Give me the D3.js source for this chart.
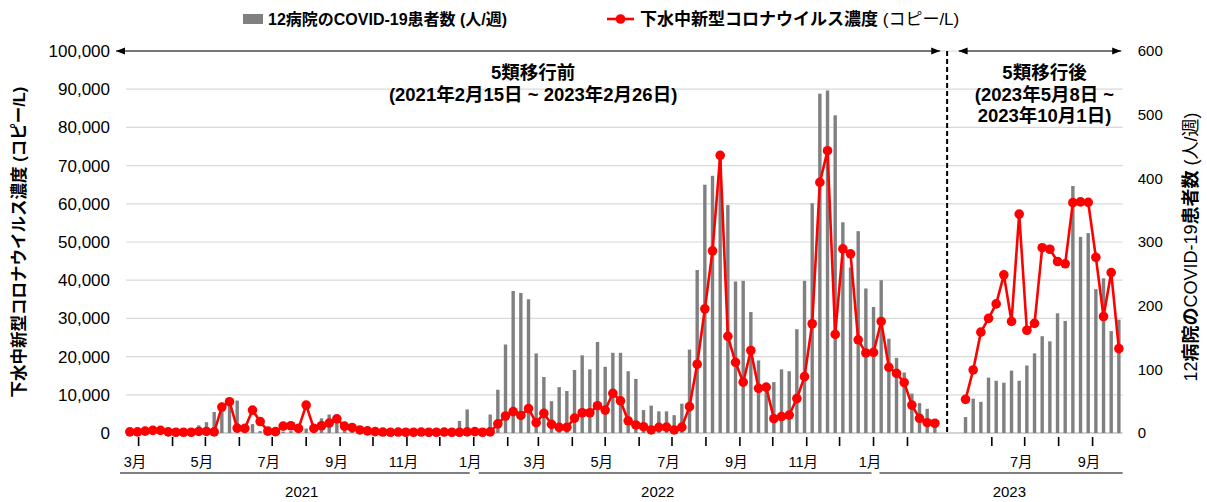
<!DOCTYPE html>
<html>
<head>
<meta charset="utf-8">
<script src="https://cdn.jsdelivr.net/npm/d3@7"></script>
<style>
  body { margin: 0; background: #fff; }
  text { font-family: "Liberation Sans", Arial, "Noto Sans CJK JP", sans-serif; fill: #000; }
</style>
</head>
<body>
<div id="chart"></div>
<script>
// weekly values, 2021-02-15 .. 2023-02-26 (before reclassification)
var preCases = [0,0,0,0,0,0,1,2,4,12,17,33,42,48,51,6,14,3,1,1,2,3,2,7,10,23,29,22,8,3,1,1,0,
  0,0,0,0,0,0,0,0,0,0,19,37,1,2,29,
  68,139,223,220,210,125,88,50,72,66,99,122,100,143,104,126,126,97,85,36,43,34,34,28,46,131,
  256,390,404,430,358,238,239,190,114,70,80,100,97,163,239,361,533,538,499,331,260,317,227,198,
  240,148,118,95,62,47,38,20];
var preConc = [300,300,500,700,700,300,200,200,200,400,400,300,6800,8200,1300,1200,6000,3000,500,350,
  1800,1900,1200,7300,1200,1900,2600,3700,1800,1400,800,550,350,
  250,200,250,200,200,250,200,200,250,200,200,300,350,200,300,
  2400,4450,5600,4600,6400,2700,5150,2270,1500,1500,3900,5300,5300,7150,6000,10400,8400,3200,2100,
  1650,800,1500,1550,800,1550,6900,18000,32500,47700,72700,25300,18500,13300,21600,11700,12000,
  3750,4300,4700,9000,14750,28600,65600,73900,25800,48200,46900,24400,20950,21100,29200,17200,
  15600,13200,7300,3850,2700,2550];
// weekly values, 2023-05-08 .. 2023-10-01 (after reclassification)
var postCases = [25,54,49,87,82,79,98,82,106,125,152,144,188,176,388,308,314,226,243,160,178];
var postConc = [8800,16500,26400,30000,33800,41400,29200,57300,26900,28700,48500,48100,44900,44300,
  60300,60500,60400,46000,30500,42000,22100];

var preStart = new Date(2021, 1, 21), postStart = new Date(2023, 4, 8);
var postOffset = 109, nSlots = 130;
var yearLabels = ["2021", "2022", "2023"];
var yearLabelDates = [new Date(2021, 6, 28), new Date(2022, 5, 18), new Date(2023, 5, 17)];
var legendCases = "12病院のCOVID-19患者数 (人/週)";
var legendConc = "下水中新型コロナウイルス濃度";
var legendConcUnit = " (コピー/L)";

var width = 1207, height = 502;
var svg = d3.select("#chart").append("svg")
    .attr("width", width).attr("height", height);

var x = d3.scaleLinear().domain([-0.5, nSlots - 0.5]).range([126, 1122.7]);
var yL = d3.scaleLinear().domain([0, 100000]).range([433, 51]);
var yR = d3.scaleLinear().domain([0, 600]).range([433, 51]);
var DAY = 864e5;

function slotOf(d) {
  if (d < new Date(2023, 3, 1)) return (d - preStart) / (7 * DAY);
  return postOffset + (d - postStart) / (7 * DAY);
}

var pre = preCases.map(function(v, i) { return {slot: i, cases: v, conc: preConc[i]}; });
var post = postCases.map(function(v, i) { return {slot: postOffset + i, cases: v, conc: postConc[i]}; });
var all = pre.concat(post);

// grid
svg.append("g").selectAll("line")
  .data(d3.range(10000, 100001, 10000))
  .enter().append("line")
  .attr("x1", x.range()[0]).attr("x2", x.range()[1])
  .attr("y1", function(d) { return yL(d); }).attr("y2", function(d) { return yL(d); })
  .attr("stroke", "#d9d9d9").attr("stroke-width", 1.2);

// axes
var left = svg.append("g").attr("transform", "translate(" + x.range()[0] + ",0)")
  .call(d3.axisLeft(yL).tickValues(d3.range(0, 100001, 10000)).tickFormat(d3.format(",")).tickSize(0).tickPadding(16));
var right = svg.append("g").attr("transform", "translate(" + x.range()[1] + ",0)")
  .call(d3.axisRight(yR).tickValues(d3.range(0, 601, 100)).tickSize(0).tickPadding(15));
[left, right].forEach(function(a, k) {
  a.select(".domain").remove();
  a.selectAll("text").style("font-size", k == 0 ? "17px" : "15px").attr("fill", "#000")
    .style("font-family", "'Liberation Sans', Arial, sans-serif");
});

svg.append("line")
  .attr("x1", x.range()[0]).attr("x2", x.range()[1])
  .attr("y1", yL(0)).attr("y2", yL(0))
  .attr("stroke", "#a6a6a6").attr("stroke-width", 1.2);

// bars
svg.append("g").selectAll("rect")
  .data(all).enter().append("rect")
  .attr("x", function(d) { return x(d.slot) - 1.7; })
  .attr("width", 3.4)
  .attr("y", function(d) { return yR(d.cases); })
  .attr("height", function(d) { return yR(0) - yR(d.cases); })
  .attr("fill", "#808080");

// line + markers
var line = d3.line().x(function(d) { return x(d.slot); }).y(function(d) { return yL(d.conc); });
[pre, post].forEach(function(seg) {
  svg.append("path").datum(seg)
    .attr("d", line).attr("fill", "none")
    .attr("stroke", "#ff0000").attr("stroke-width", 2.6).attr("stroke-linejoin", "round");
});
svg.append("g").selectAll("circle")
  .data(all).enter().append("circle")
  .attr("cx", function(d) { return x(d.slot); })
  .attr("cy", function(d) { return yL(d.conc); })
  .attr("r", 4.8).attr("fill", "#ff0000");

// month ticks
var months = d3.timeMonth.range(new Date(2021, 2, 1), new Date(2023, 2, 1))
  .concat(d3.timeMonth.range(new Date(2023, 5, 1), new Date(2023, 9, 1)));
var mt = svg.append("g");
mt.selectAll("line").data(months).enter().append("line")
  .attr("x1", function(d) { return x(slotOf(d)); }).attr("x2", function(d) { return x(slotOf(d)); })
  .attr("y1", 437).attr("y2", 446)
  .attr("stroke", "#000").attr("stroke-width", 1.6);
mt.selectAll("text").data(months.filter(function(d) { return d.getMonth() % 2 == 0; }))
  .enter().append("text")
  .attr("x", function(d) { return x(slotOf(d)) - 3.5; })
  .attr("y", 467)
  .attr("text-anchor", "middle")
  .style("font-size", "14.5px")
  .text(function(d) { return (d.getMonth() + 1) + "月"; });

// year groups
var jan22 = x(slotOf(new Date(2022, 0, 1))), jan23 = x(slotOf(new Date(2023, 0, 1)));
var yearSpans = [[x.range()[0] - 6, jan22 - 4], [jan22 + 5, jan23 - 2], [jan23 + 6, x.range()[1]]];
svg.append("g").selectAll("line").data(yearSpans).enter().append("line")
  .attr("x1", function(d) { return d[0]; }).attr("x2", function(d) { return d[1]; })
  .attr("y1", 473).attr("y2", 473).attr("stroke", "#000").attr("stroke-width", 1);
svg.append("g").selectAll("text").data(yearLabels).enter().append("text")
  .attr("x", function(d, i) { return x(slotOf(yearLabelDates[i])); })
  .attr("y", 497).attr("text-anchor", "middle")
  .style("font-size", "15px")
  .text(function(d) { return d; });

// period divider + arrows
var defs = svg.append("defs");
defs.append("marker").attr("id", "ah").attr("viewBox", "0 0 10 10")
  .attr("refX", 10).attr("refY", 5).attr("markerWidth", 9).attr("markerHeight", 9)
  .attr("markerUnits", "userSpaceOnUse").attr("orient", "auto-start-reverse")
  .append("path").attr("d", "M0,1 L10,5 L0,9 Z").attr("fill", "#000");

var divX = x(106.6);
svg.append("line")
  .attr("x1", divX).attr("x2", divX).attr("y1", yL(100000)).attr("y2", yL(0))
  .attr("stroke", "#000").attr("stroke-width", 2).attr("stroke-dasharray", "5,3");

[[x(-1.8), x(105.7)], [x(108.1), x(129.3)]].forEach(function(a) {
  svg.append("line")
    .attr("x1", a[0]).attr("x2", a[1]).attr("y1", yL(100000)).attr("y2", yL(100000))
    .attr("stroke", "#000").attr("stroke-width", 1)
    .attr("marker-start", "url(#ah)").attr("marker-end", "url(#ah)");
});

var notes = [
  {x: x(52.6), lines: ["5類移行前", "(2021年2月15日 ~ 2023年2月26日)"]},
  {x: x(119.3), lines: ["5類移行後", "(2023年5月8日 ~", "2023年10月1日)"]}
];
notes.forEach(function(n) {
  n.lines.forEach(function(t, i) {
    svg.append("text").attr("x", n.x).attr("y", 79 + i * 21.5)
      .attr("text-anchor", "middle")
      .style("font-size", "18.5px").style("font-weight", "bold")
      .text(t);
  });
});

// axis titles
svg.append("text")
  .attr("transform", "translate(25,242) rotate(-90)")
  .attr("text-anchor", "middle")
  .style("font-size", "16.5px").style("font-weight", "bold")
  .text(legendConc + legendConcUnit);
var rt = svg.append("text")
  .attr("transform", "translate(1197,247) rotate(-90)")
  .attr("text-anchor", "middle")
  .style("font-size", "18px");
[["12", "normal"], ["病院の", "bold"], ["COVID-19", "normal"], ["患者数", "bold"], [" (人/週)", "normal"]]
  .forEach(function(p) { rt.append("tspan").style("font-weight", p[1]).text(p[0]); });

// legend
var lg = svg.append("g");
lg.append("rect").attr("x", 243).attr("y", 14).attr("width", 20).attr("height", 10).attr("fill", "#808080");
lg.append("text").attr("x", 268).attr("y", 25).style("font-size", "16px").style("font-weight", "bold")
  .text(legendCases);
lg.append("line").attr("x1", 607).attr("x2", 634).attr("y1", 19).attr("y2", 19)
  .attr("stroke", "#ff0000").attr("stroke-width", 2.6);
lg.append("circle").attr("cx", 620.5).attr("cy", 19).attr("r", 4.8).attr("fill", "#ff0000");
var lt = lg.append("text").attr("x", 640).attr("y", 25).style("font-size", "17px");
lt.append("tspan").style("font-weight", "bold").text(legendConc);
lt.append("tspan").text(legendConcUnit);
</script>
</body>
</html>
